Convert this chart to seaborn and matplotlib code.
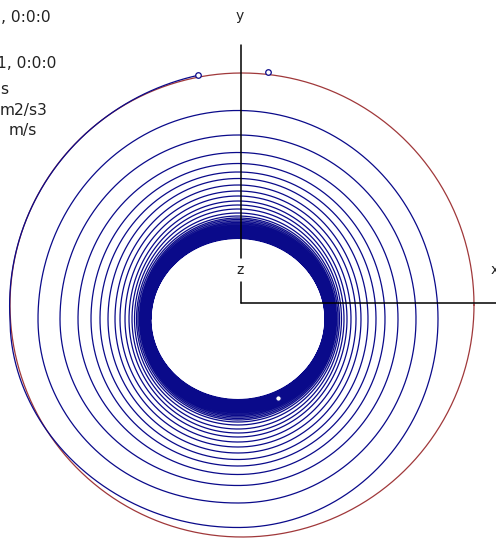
import numpy as np
import pandas as pd
import matplotlib
matplotlib.use("Agg")
import matplotlib.pyplot as plt
import seaborn as sns

sns.set_style("white")
plt.rcParams["font.family"] = ["DejaVu Sans"]

# Status readout in the upper-left corner
info_text = [", 0:0:0", "1, 0:0:0", "s", "m2/s3", "m/s"]
info_pos_x = [-240, -244, -241, -241, -232]
info_pos_y = [285, 240, 213, 193, 172]

# Reference (initial) orbit
ref_center = (1.0, -2.0)
ref_radius = 232.0

# Decaying trajectory: first partial turn (deg, radius), then the
# horizontal / vertical semi-axes of each following revolution
start_angles = [99, 180]
start_radii = [247, 228]
rev_rx = [200, 178, 160, 147, 138, 130, 123, 118, 113, 109, 106,
          103.5, 101.5, 100.0, 98.6, 97.4, 96.3, 95.3, 94.4, 93.6,
          92.9, 92.2, 91.6, 91.0, 90.5, 90.0, 89.6, 89.2, 88.8,
          88.4, 88.1, 87.8, 87.5, 87.2, 87.0]
rev_ry = [208.5, 184, 166.5, 155.5, 147, 140.5, 134, 128, 123, 118, 114,
          110, 106, 103, 101, 99.5, 98, 96.6, 95.3, 94, 92.8, 91.6,
          90.5, 89.4, 88.4, 87.4, 86.5, 85.6, 84.8, 84, 83.2, 82.5,
          81.8, 81.2, 80.6]
traj_center = (-3.0, -16.0)

# Event markers along the trajectory
event_x = [-43, 27, 37]
event_y = [228, 231, -95]

navy = "#0A0A8A"
dark_red = "#A0383A"

fig = plt.figure(figsize=(4.96, 5.43), dpi=100)
ax = fig.add_axes([0, 0, 1, 1])
ax.set_xlim(-241, 255)
ax.set_ylim(-240, 303)
ax.set_axis_off()

# reference circle
phi = np.linspace(0, 2 * np.pi, 720)
ref_df = pd.DataFrame({
    "x": ref_center[0] + ref_radius * np.cos(phi),
    "y": ref_center[1] + ref_radius * np.sin(phi),
})
sns.lineplot(data=ref_df, x="x", y="y", sort=False, estimator=None,
             color=dark_red, lw=0.9, ax=ax)

# each revolution holds its size from the bottom round to the left side,
# then eases down to the next one through the lower-left quadrant
knot_deg = list(start_angles)
knot_rx, knot_ry = list(start_radii), list(start_radii)
for k, (a, b) in enumerate(zip(rev_rx, rev_ry)):
    knot_deg += [270 + 360 * k, 540 + 360 * k]
    knot_rx += [a, a]
    knot_ry += [b, b]
knot_deg = np.array(knot_deg, float)
knot_rx = np.array(knot_rx, float)
knot_ry = np.array(knot_ry, float)

theta = np.linspace(knot_deg[0], knot_deg[-1], 60000)
pos = np.interp(theta, knot_deg, np.arange(len(knot_deg)))
i = np.minimum(np.floor(pos).astype(int), len(knot_deg) - 2)
f = pos - i
s = f * f * (3 - 2 * f)
s[:np.searchsorted(theta, knot_deg[1])] = f[:np.searchsorted(theta, knot_deg[1])]
rx = knot_rx[i] + (knot_rx[i + 1] - knot_rx[i]) * s
ry = knot_ry[i] + (knot_ry[i + 1] - knot_ry[i]) * s
th = np.deg2rad(theta)
traj_df = pd.DataFrame({
    "x": traj_center[0] + rx * np.cos(th),
    "y": traj_center[1] + ry * np.sin(th),
})
sns.lineplot(data=traj_df, x="x", y="y", sort=False, estimator=None,
             color=navy, lw=0.9, ax=ax)

ax.plot(event_x, event_y, "o", ms=4, mfc="white", mec=navy, mew=0.9, zorder=5)

# body axes
ax.plot([0, 0], [45, 258], color="black", lw=1.1, zorder=6)
ax.plot([0, 0], [0, 21], color="black", lw=1.1, zorder=6)
ax.plot([0, 255], [0, 0], color="black", lw=1.1, zorder=6)
ax.text(-1, 287, "y", ha="center", va="center", fontsize=10, color="#222222", zorder=7)
ax.text(-1, 33, "z", ha="center", va="center", fontsize=10, color="#222222", zorder=7)
ax.text(254, 33, "x", ha="center", va="center", fontsize=10, color="#222222", zorder=7)

for t, x, y in zip(info_text, info_pos_x, info_pos_y):
    ax.text(x, y, t, ha="left", va="center", fontsize=11.2, color="#222222")

fig.savefig("out.png", dpi=100)
